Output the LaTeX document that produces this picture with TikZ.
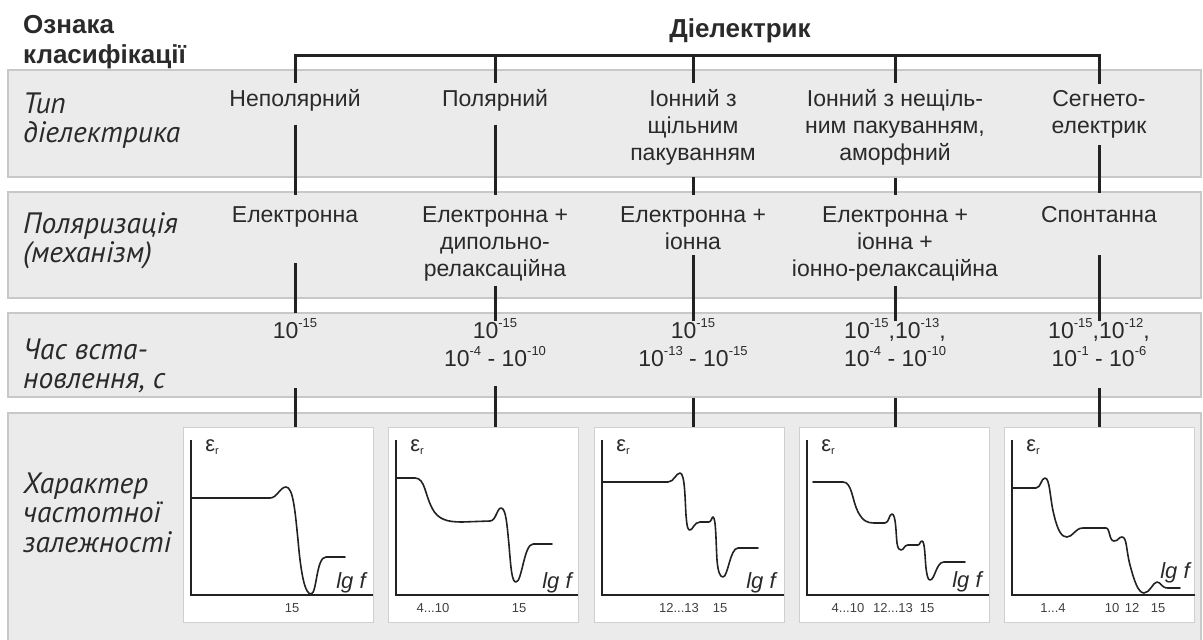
\documentclass[tikz,border=0pt]{standalone}
\usepackage{fontspec}
\setmainfont{Liberation Sans}
\newfontfamily\captionfamily{PT Sans}
\usetikzlibrary{calc}

\definecolor{band}{HTML}{EBEBEB}
\definecolor{bandline}{HTML}{C8C8C8}
\definecolor{ink}{HTML}{222222}
\definecolor{txt}{HTML}{2A2A2A}
\definecolor{boxline}{HTML}{D0D0D0}
\definecolor{ticktxt}{HTML}{404040}

% fonts
\newcommand\headfont{\fontsize{26}{30}\selectfont\bfseries}
\newcommand\labfont{\captionfamily\fontsize{29.5}{29.5}\selectfont\itshape}
\newcommand\cellfont{\fontsize{23}{27}\selectfont}
\newcommand\timefont{\fontsize{23}{28}\selectfont}
\newcommand\tickfont{\fontsize{13}{13}\selectfont}
% raised small exponent
\newcommand\sps[1]{\raisebox{11pt}{\fontsize{13}{13}\selectfont#1}}
% relative permittivity symbol
\newcommand\epsr{{\fontsize{22}{22}\selectfont ε}\raisebox{-3pt}{\fontsize{11}{11}\selectfont r}}

\tikzset{
  bandbox/.style={fill=band, draw=bandline, line width=1.2pt},
  plotbox/.style={fill=white, draw=boxline, line width=1.2pt, inner sep=0pt,
    minimum width=190pt, minimum height=195pt, anchor=north west},
  cell/.style={font=\cellfont, text=txt, align=center, inner sep=0pt, anchor=base},
  timecell/.style={font=\timefont, text=txt, align=center, inner sep=0pt, anchor=base},
  rowlab/.style={font=\labfont, text=txt, align=left, inner sep=0pt, anchor=base west},
  head/.style={font=\headfont, text=txt, align=left, inner sep=0pt, anchor=base west},
  barline/.style={draw=ink, line width=3pt},
  link/.style={draw=ink, line width=3pt},
  axis/.style={draw=ink, line width=1.6pt},
  curve/.style={draw=ink, line width=1.6pt, line join=round, line cap=round},
  ticklab/.style={font=\tickfont, text=ticktxt, inner sep=0pt},
  axlab/.style={font=\fontsize{22}{22}\selectfont\itshape, text=txt, inner sep=0pt},
  symlab/.style={text=txt, inner sep=0pt}
}

\begin{document}
\begin{tikzpicture}[x=1pt,y=-1pt]
\useasboundingbox (0,0) rectangle (1203,640);

% grey bands
\draw[bandbox] (8,70) rectangle (1201,177);
\draw[bandbox] (8,192) rectangle (1201,298);
\draw[bandbox] (8,313) rectangle (1201,397);
\draw[bandbox] (8,413) rectangle (1201,660);

% headings (multi-line nodes sit on the baseline of their last line)
\node[head] (crit) at (23,63) {Ознака\\класифікації};
\node[head, anchor=base] (diel) at (740,37) {Діелектрик};

% row captions
\node[rowlab] (lab1) at (23,142.5) {Тип\\діелектрика};
\node[rowlab] (lab2) at (23,262.5) {Поляризація\\(механізм)};
\node[rowlab] (lab3) at (23,388.5) {Час вста-\\новлення, с};
\node[rowlab] (lab4) at (23,552) {Характер\\частотної\\залежності};

% type of dielectric
\node[cell] (t1) at (295,106) {Неполярний};
\node[cell] (t2) at (495,106) {Полярний};
\node[cell] (t3) at (693,160) {Іонний з\\щільним\\пакуванням};
\node[cell] (t4) at (895,160) {Іонний з нещіль-\\ним пакуванням,\\аморфний};
\node[cell] (t5) at (1099,133) {Сегнето-\\електрик};

% polarisation mechanism
\node[cell] (r1) at (295,222) {Електронна};
\node[cell] (r2) at (495,276) {Електронна +\\дипольно-\\релаксаційна};
\node[cell] (r3) at (693,249) {Електронна +\\іонна};
\node[cell] (r4) at (895,276) {Електронна +\\іонна +\\іонно-релаксаційна};
\node[cell] (r5) at (1099,222) {Спонтанна};

% settling time
\node[timecell] (n1) at (295,338) {10\sps{-15}};
\node[timecell] (n2) at (495,366) {10\sps{-15}\\10\sps{-4} - 10\sps{-10}};
\node[timecell] (n3) at (693,366) {10\sps{-15}\\10\sps{-13} - 10\sps{-15}};
\node[timecell] (n4) at (895,366) {10\sps{-15},10\sps{-13},\\10\sps{-4} - 10\sps{-10}};
\node[timecell] (n5) at (1099,366) {10\sps{-15},10\sps{-12},\\10\sps{-1} - 10\sps{-6}};

% plot frames
\node[plotbox] (g1) at (183,427) {};
\node[plotbox] (g2) at (388,427) {};
\node[plotbox] (g3) at (594,427) {};
\node[plotbox] (g4) at (799,427) {};
\node[plotbox] (g5) at (1004,427) {};

% bracket from the root heading to every type
\coordinate (bar) at (740,55);
\draw[barline, shorten <=6pt, shorten >=6pt] (t1.north) |- (bar) -| (t5.north);
\foreach \t in {t2,t3,t4}
  \draw[barline, shorten <=6pt] (\t.north) -- (\t.north |- bar);

% type -> polarisation
\draw[link, shorten <=14pt, shorten >=11pt] (t1.south) -- (r1.north);
\draw[link, shorten <=14pt, shorten >=11pt] (t2.south) -- (r2.north);
\draw[link, shorten <=12pt, shorten >=11pt] (t3.south) -- (r3.north);
\draw[link, shorten <=13pt, shorten >=11pt] (t4.south) -- (r4.north);
\draw[link, shorten <=7pt, shorten >=13pt] (t5.south) -- (r5.north);

% polarisation -> settling time
\draw[link, shorten <=36pt, shorten >=5pt] (r1.south) -- (n1.north);
\draw[link, shorten <=5pt, shorten >=-3pt] (r2.south) -- (n2.north);
\draw[link, shorten <=6pt, shorten >=-3pt] (r3.south) -- (n3.north);
\draw[link, shorten <=5pt, shorten >=-3pt] (r4.south) -- (n4.north);
\draw[link, shorten <=33pt, shorten >=-3pt] (r5.south) -- (n5.north);

% settling time -> plot
\draw[link, shorten <=50pt] (n1.south) -- (n1.south |- g1.north);
\draw[link, shorten <=20pt] (n2.south) -- (n2.south |- g2.north);
\draw[link, shorten <=32pt] (n3.south) -- (n3.south |- g3.north);
\draw[link, shorten <=32pt] (n4.south) -- (n4.south |- g4.north);
\draw[link, shorten <=22pt] (n5.south) -- (n5.south |- g5.north);

% axes
\draw[axis] (191,440) |- (373,595);
\draw[axis] (396,440) |- (578,595);
\draw[axis] (602,440) |- (784,595);
\draw[axis] (807,440) |- (989,595);
\draw[axis] (1012,440) |- (1195,595);

% axis captions
\foreach \L/\n in {183/1,388/2,594/3,799/4,1004/5}{
  \node[symlab] (e\n) at (\L+29,447) {\epsr};
}
\node[axlab] (f1) at (351,583) {lg f};
\node[axlab] (f2) at (557,583) {lg f};
\node[axlab] (f3) at (761,583) {lg f};
\node[axlab] (f4) at (967,582) {lg f};
\node[axlab] (f5) at (1175,573) {lg f};

% frequency marks
\node[ticklab] (k11) at (292,608) {15};
\node[ticklab] (k21) at (433,608) {4...10};
\node[ticklab] (k22) at (519,608) {15};
\node[ticklab] (k31) at (679,608) {12...13};
\node[ticklab] (k32) at (720,608) {15};
\node[ticklab] (k41) at (848,608) {4...10};
\node[ticklab] (k42) at (893,608) {12...13};
\node[ticklab] (k43) at (927,608) {15};
\node[ticklab] (k51) at (1053,608) {1...4};
\node[ticklab] (k52) at (1112,608) {10};
\node[ticklab] (k53) at (1132,608) {12};
\node[ticklab] (k54) at (1158,608) {15};

% permittivity versus frequency
\draw[curve] (191,498) -- (270,498)
  .. controls (277,498) and (280,487) .. (286,487)
  .. controls (293,487) and (295,510) .. (298,540)
  .. controls (301,575) and (305,594) .. (311,594)
  .. controls (317,594) and (316,557) .. (326,557) -- (345,557);

\draw[curve] (396,478) -- (415,478)
  .. controls (425,478) and (425,495) .. (432,508)
  .. controls (438,520) and (448,522) .. (462,522) -- (490,521)
  .. controls (496,521) and (497,508) .. (501,508)
  .. controls (506,508) and (507,525) .. (509,545)
  .. controls (511,570) and (512,582) .. (516,582)
  .. controls (522,582) and (524,544) .. (533,544) -- (552,544);

\draw[curve] (602,482) -- (668,482)
  .. controls (674,482) and (676,473) .. (680,473)
  .. controls (685,473) and (685,500) .. (686,515)
  .. controls (687,528) and (688,530) .. (690,530)
  .. controls (693,530) and (694,522) .. (700,522) -- (709,522)
  .. controls (711,522) and (712,517) .. (713,517)
  .. controls (716,517) and (716,545) .. (717,560)
  .. controls (718,572) and (720,577) .. (723,577)
  .. controls (728,577) and (730,548) .. (738,548) -- (758,548);

\draw[curve] (813,482) -- (843,482)
  .. controls (852,482) and (852,500) .. (858,512)
  .. controls (863,521) and (867,523) .. (874,523) -- (885,523)
  .. controls (889,523) and (889,514) .. (892,514)
  .. controls (896,514) and (896,535) .. (897,543)
  .. controls (898,549) and (899,550) .. (901,550)
  .. controls (904,550) and (904,545) .. (908,545) -- (918,545)
  .. controls (920,545) and (920,541) .. (922,541)
  .. controls (925,541) and (925,560) .. (926,568)
  .. controls (927,576) and (928,580) .. (930,580)
  .. controls (935,580) and (936,562) .. (944,562) -- (965,562);

\draw[curve] (1012,488) -- (1036,488)
  .. controls (1041,488) and (1041,478) .. (1045,478)
  .. controls (1050,478) and (1050,500) .. (1054,515)
  .. controls (1058,532) and (1062,537) .. (1067,537)
  .. controls (1073,537) and (1075,528) .. (1083,528) -- (1106,528)
  .. controls (1110,528) and (1109,541) .. (1114,541)
  .. controls (1119,541) and (1118,537) .. (1122,537)
  .. controls (1127,537) and (1126,550) .. (1130,565)
  .. controls (1134,580) and (1138,593) .. (1144,593)
  .. controls (1150,593) and (1153,582) .. (1157,582)
  .. controls (1161,582) and (1161,588) .. (1168,588) -- (1180,588);
\end{tikzpicture}
\end{document}
